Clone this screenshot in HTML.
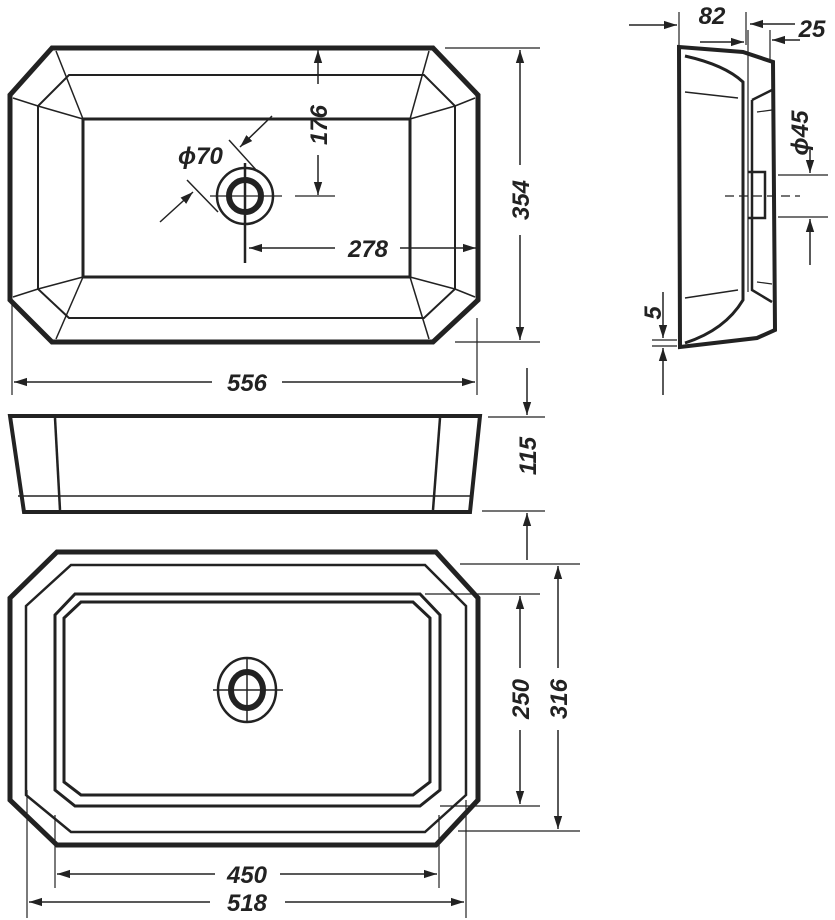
<!DOCTYPE html>
<html><head><meta charset="utf-8"><style>
html,body{margin:0;padding:0;background:#fff}
svg{display:block}
text{font-family:"Liberation Sans",Arial,sans-serif;font-weight:bold;font-style:italic;font-size:24px;fill:#222}
</style></head><body>
<svg width="835" height="920" viewBox="0 0 835 920" xmlns="http://www.w3.org/2000/svg">
<defs>
<marker id="a" viewBox="0 0 10 10" refX="10" refY="5" markerWidth="13" markerHeight="13" markerUnits="userSpaceOnUse" orient="auto-start-reverse"><path d="M0,1.8 L10,5 L0,8.2 z" fill="#222"/></marker>
</defs>
<g fill="none" stroke="#222" stroke-linejoin="miter">
<!-- TOP VIEW -->
<polygon points="52,48 433,48 478,95 478,300 433,342 52,342 10,300 10,95" stroke-width="5"/>
<polygon points="69,75 424,75 455,106 455,289 424,318 69,318 38,289 38,106" stroke-width="2"/>
<rect x="83" y="119" width="327" height="158" stroke-width="3"/>
<g stroke-width="1.5">
<line x1="56" y1="51" x2="83" y2="119"/><line x1="429" y1="51" x2="410" y2="119"/>
<line x1="56" y1="339" x2="83" y2="277"/><line x1="429" y1="339" x2="410" y2="277"/>
<line x1="13" y1="98" x2="38" y2="106"/><line x1="475" y1="98" x2="455" y2="106"/>
<line x1="13" y1="297" x2="38" y2="289"/><line x1="475" y1="297" x2="455" y2="289"/>
<line x1="38" y1="106" x2="83" y2="119"/><line x1="455" y1="106" x2="410" y2="119"/>
<line x1="38" y1="289" x2="83" y2="277"/><line x1="455" y1="289" x2="410" y2="277"/>
</g>
<circle cx="245" cy="196" r="28" stroke-width="2.5"/>
<circle cx="245" cy="196" r="16" stroke-width="6"/>
<line x1="245" y1="163" x2="245" y2="263" stroke-width="2.5"/>
<line x1="210" y1="196" x2="282" y2="196" stroke-width="1.2"/>
<line x1="229" y1="140" x2="258" y2="172" stroke-width="1.5"/>
<line x1="187" y1="180" x2="218" y2="212" stroke-width="1.5"/>
<line x1="272" y1="116" x2="240" y2="147" stroke-width="1.5" marker-end="url(#a)"/>
<line x1="160" y1="222" x2="193" y2="192" stroke-width="1.5" marker-end="url(#a)"/>
<line x1="318" y1="84" x2="318" y2="50" stroke-width="1.5" marker-end="url(#a)"/>
<line x1="318" y1="155" x2="318" y2="195" stroke-width="1.5" marker-end="url(#a)"/>
<line x1="295" y1="196" x2="335" y2="196" stroke-width="1.2"/>
<line x1="335" y1="248" x2="249" y2="248" stroke-width="1.5" marker-end="url(#a)"/>
<line x1="400" y1="248" x2="476" y2="248" stroke-width="1.5" marker-end="url(#a)"/>
<line x1="445" y1="48" x2="540" y2="48" stroke-width="1.2"/>
<line x1="455" y1="342" x2="540" y2="342" stroke-width="1.2"/>
<line x1="520" y1="165" x2="520" y2="50" stroke-width="1.5" marker-end="url(#a)"/>
<line x1="520" y1="235" x2="520" y2="340" stroke-width="1.5" marker-end="url(#a)"/>
<line x1="12" y1="300" x2="12" y2="395" stroke-width="1.2"/>
<line x1="477" y1="318" x2="477" y2="395" stroke-width="1.2"/>
<line x1="212" y1="382" x2="14" y2="382" stroke-width="1.5" marker-end="url(#a)"/>
<line x1="282" y1="382" x2="475" y2="382" stroke-width="1.5" marker-end="url(#a)"/>

<!-- FRONT VIEW -->
<polygon points="10,416 480,416 470,512 24,512" stroke-width="4"/>
<line x1="18" y1="496" x2="473" y2="496" stroke-width="1.5"/>
<line x1="55" y1="418" x2="60" y2="510" stroke-width="2.5"/>
<line x1="440" y1="418" x2="433" y2="510" stroke-width="2.5"/>
<line x1="488" y1="417" x2="545" y2="417" stroke-width="1.2"/>
<line x1="482" y1="511" x2="545" y2="511" stroke-width="1.2"/>
<line x1="527" y1="368" x2="527" y2="415" stroke-width="1.5" marker-end="url(#a)"/>
<line x1="527" y1="560" x2="527" y2="513" stroke-width="1.5" marker-end="url(#a)"/>

<!-- BOTTOM VIEW -->
<polygon points="57,552 436,552 478,598 478,800 436,845 57,845 10,800 10,598" stroke-width="5"/>
<polygon points="71,565 425,565 466,606 466,795 425,832 71,832 26,795 26,606" stroke-width="2.5"/>
<polygon points="75,594 420,594 440,615 440,790 420,806 75,806 55,790 55,615" stroke-width="3"/>
<polygon points="81,602 413,602 430,618 430,782 413,795 81,795 64,782 64,618" stroke-width="3"/>
<ellipse cx="247" cy="690" rx="29" ry="32" stroke-width="2.5"/>
<ellipse cx="247" cy="690" rx="16" ry="18" stroke-width="6"/>
<line x1="247" y1="657" x2="247" y2="723" stroke-width="1.5"/>
<line x1="213" y1="690" x2="283" y2="690" stroke-width="1.5"/>
<line x1="425" y1="594" x2="540" y2="594" stroke-width="1.2"/>
<line x1="440" y1="806" x2="540" y2="806" stroke-width="1.2"/>
<line x1="460" y1="564" x2="580" y2="564" stroke-width="1.2"/>
<line x1="458" y1="831" x2="580" y2="831" stroke-width="1.2"/>
<line x1="520" y1="668" x2="520" y2="596" stroke-width="1.5" marker-end="url(#a)"/>
<line x1="520" y1="730" x2="520" y2="804" stroke-width="1.5" marker-end="url(#a)"/>
<line x1="558" y1="668" x2="558" y2="566" stroke-width="1.5" marker-end="url(#a)"/>
<line x1="558" y1="730" x2="558" y2="829" stroke-width="1.5" marker-end="url(#a)"/>
<line x1="55" y1="815" x2="55" y2="888" stroke-width="1.2"/>
<line x1="439" y1="815" x2="439" y2="888" stroke-width="1.2"/>
<line x1="27" y1="790" x2="27" y2="918" stroke-width="1.2"/>
<line x1="466" y1="800" x2="466" y2="918" stroke-width="1.2"/>
<line x1="215" y1="874" x2="57" y2="874" stroke-width="1.5" marker-end="url(#a)"/>
<line x1="280" y1="874" x2="437" y2="874" stroke-width="1.5" marker-end="url(#a)"/>
<line x1="210" y1="902" x2="29" y2="902" stroke-width="1.5" marker-end="url(#a)"/>
<line x1="285" y1="902" x2="464" y2="902" stroke-width="1.5" marker-end="url(#a)"/>

<!-- SIDE VIEW -->
<polygon points="679,47 743,52 773,62 775,330 757,338 680,347" stroke-width="4"/>
<path d="M685,56 Q725,65 743,82 L743,300 Q725,330 685,343" stroke-width="3"/>
<line x1="748" y1="30" x2="748" y2="292" stroke-width="1.2"/>
<path d="M752,100 L772,90 M752,100 L752,290 L772,302" stroke-width="2.5"/>
<line x1="685" y1="92" x2="738" y2="98" stroke-width="1.5"/>
<line x1="685" y1="298" x2="738" y2="290" stroke-width="1.5"/>
<line x1="757" y1="112" x2="772" y2="110" stroke-width="1.2"/>
<line x1="757" y1="282" x2="772" y2="284" stroke-width="1.2"/>
<path d="M748,172 L765,172 L765,218 L748,218" stroke-width="2.5"/>
<line x1="725" y1="196" x2="800" y2="196" stroke-width="1.3" stroke-dasharray="9,5"/>
<line x1="679" y1="12" x2="679" y2="45" stroke-width="1.2"/>
<line x1="746" y1="12" x2="746" y2="45" stroke-width="1.2"/>
<line x1="770" y1="30" x2="770" y2="60" stroke-width="1.2"/>
<line x1="629" y1="25" x2="677" y2="25" stroke-width="1.5" marker-end="url(#a)"/>
<line x1="700" y1="42" x2="744" y2="42" stroke-width="1.5" marker-end="url(#a)"/>
<line x1="795" y1="24" x2="750" y2="24" stroke-width="1.5" marker-end="url(#a)"/>
<line x1="800" y1="40" x2="772" y2="40" stroke-width="1.5" marker-end="url(#a)"/>
<line x1="778" y1="175" x2="828" y2="175" stroke-width="1.2"/>
<line x1="778" y1="217" x2="828" y2="217" stroke-width="1.2"/>
<line x1="810" y1="150" x2="810" y2="173" stroke-width="1.5" marker-end="url(#a)"/>
<line x1="810" y1="265" x2="810" y2="219" stroke-width="1.5" marker-end="url(#a)"/>
<line x1="652" y1="340" x2="677" y2="340" stroke-width="1.2"/>
<line x1="652" y1="346" x2="677" y2="346" stroke-width="1.2"/>
<line x1="663" y1="292" x2="663" y2="338" stroke-width="1.5" marker-end="url(#a)"/>
<line x1="663" y1="395" x2="663" y2="348" stroke-width="1.5" marker-end="url(#a)"/>
</g>
<g>
<text x="178" y="164">ϕ70</text>
<text x="368" y="257" text-anchor="middle">278</text>
<text transform="translate(327,125) rotate(-90)" text-anchor="middle">176</text>
<text transform="translate(529,200) rotate(-90)" text-anchor="middle">354</text>
<text x="247" y="391" text-anchor="middle">556</text>
<text transform="translate(536,456) rotate(-90)" text-anchor="middle">115</text>
<text transform="translate(529,699) rotate(-90)" text-anchor="middle">250</text>
<text transform="translate(567,699) rotate(-90)" text-anchor="middle">316</text>
<text x="247" y="883" text-anchor="middle">450</text>
<text x="247" y="911" text-anchor="middle">518</text>
<text x="712" y="24" text-anchor="middle">82</text>
<text x="812" y="37" text-anchor="middle">25</text>
<text transform="translate(808,133) rotate(-90)" text-anchor="middle">ϕ45</text>
<text transform="translate(661,313) rotate(-90)" text-anchor="middle">5</text>
</g>
</svg>
</body></html>
